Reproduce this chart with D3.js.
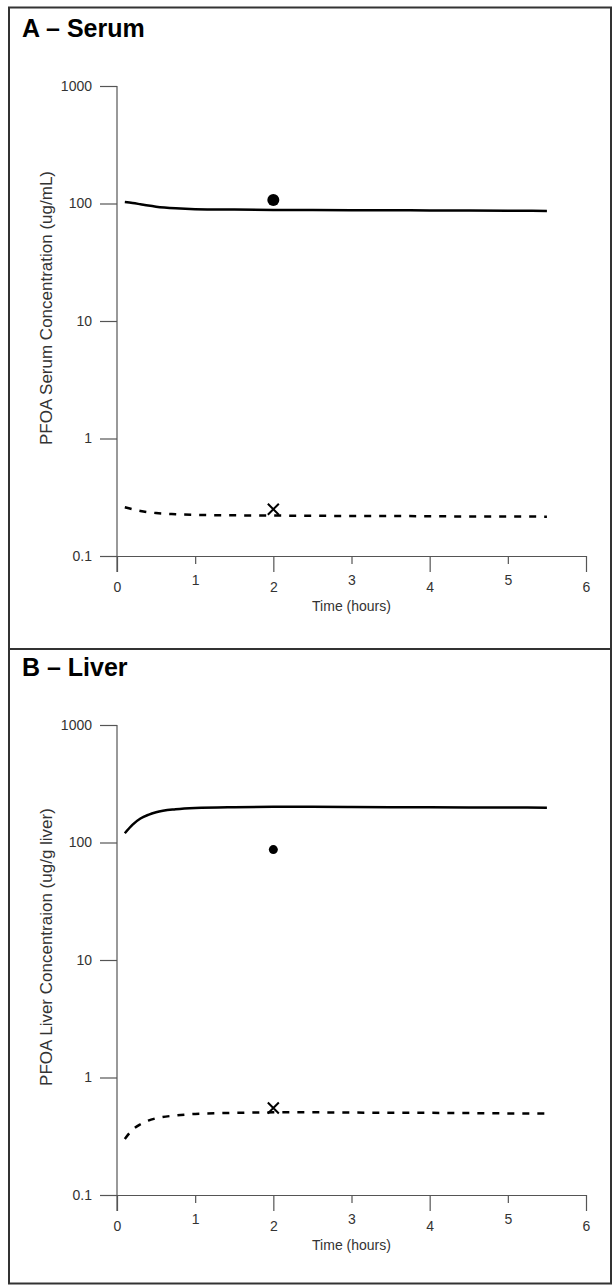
<!DOCTYPE html>
<html lang="en">
<head>
    <meta charset="utf-8">
    <title>PFOA serum and liver</title>
    <script src="https://cdn.jsdelivr.net/npm/d3@7"></script>
    <style>
        body { margin: 0; background: #fff; }
        svg { display: block; }
        text { font-family: "Liberation Sans", Arial, sans-serif; }
    </style>
</head>
<body>
<script>
// model time points (hours)
var times = [0.1, 0.2, 0.3, 0.4, 0.5, 0.75, 1, 1.5, 2, 2.5, 3, 3.5, 4, 4.5, 5, 5.5];

// panel A - serum (ug/mL)
var serumSolid  = [103, 101, 98.5, 96, 94, 91, 89.5, 88.7, 88.2, 88, 87.8, 87.5, 87.3, 87, 86.7, 86.5];
var serumDashed = [0.26, 0.25, 0.242, 0.236, 0.232, 0.227, 0.224, 0.222, 0.221, 0.22, 0.219, 0.219, 0.218, 0.217, 0.217, 0.216];
var serumDot = [2, 107];
var serumCross = [2, 0.25];

// panel B - liver (ug/g liver)
var liverSolid  = [120, 142, 160, 172, 181, 192, 197, 200, 201, 201, 200.5, 200, 199.5, 199, 198.5, 198];
var liverDashed = [0.30, 0.36, 0.40, 0.43, 0.45, 0.475, 0.49, 0.50, 0.505, 0.505, 0.503, 0.50, 0.50, 0.498, 0.495, 0.493];
var liverDot = [2, 87];
var liverCross = [2, 0.55];

var xTicks = [0, 1, 2, 3, 4, 5, 6];
var yTicks = [0.1, 1, 10, 100, 1000];

var W = 613, H = 1286;
var svg = d3.select("body").append("svg").attr("width", W).attr("height", H);

// frame and divider
svg.append("rect").attr("x", 9).attr("y", 7.5).attr("width", 602).attr("height", 1276)
    .attr("fill", "none").attr("stroke", "#333").attr("stroke-width", 2);
svg.append("line").attr("x1", 9).attr("x2", 611).attr("y1", 649).attr("y2", 649)
    .attr("stroke", "#333").attr("stroke-width", 2);

function panel(top, title, ylab, solid, dashed, dot, cross, dotR) {
    var g = svg.append("g").attr("transform", "translate(0," + top + ")");

    g.append("text").attr("x", 22).attr("y", 37).text(title)
        .attr("font-size", 25).attr("font-weight", "bold").attr("fill", "#000");

    var x = d3.scaleLinear().domain([0, 6]).range([117, 586]);
    var y = d3.scaleLog().domain([0.1, 1000]).range([556, 86]);

    var yAxis = g.append("g").attr("transform", "translate(117,0)")
        .call(d3.axisLeft(y).tickValues(yTicks).tickSize(17).tickSizeOuter(0).tickPadding(8)
            .tickFormat(function(d) { return d < 1 ? "0.1" : d3.format("d")(d); }));
    var xAxis = g.append("g").attr("transform", "translate(0,556)")
        .call(d3.axisBottom(x).tickValues(xTicks).tickFormat(d3.format("d"))
            .tickSize(16).tickSizeOuter(0).tickPadding(10));

    [yAxis, xAxis].forEach(function(a) {
        a.select(".domain").attr("stroke", "#555").attr("stroke-width", 1.2);
        a.selectAll(".tick line").attr("stroke", "#555").attr("stroke-width", 1.2);
        a.selectAll(".tick text").attr("font-size", 14).attr("fill", "#333").attr("font-family", null);
    });
    // y axis runs down past the x axis
    yAxis.select(".domain").attr("d", "M0,86V572");
    // odd hours get short ticks and raised labels
    xAxis.selectAll(".tick").filter(function(d) { return d % 2 === 1; })
        .each(function() {
            d3.select(this).select("line").attr("y2", 8);
            d3.select(this).select("text").attr("y", 19);
        });

    g.append("text").attr("x", x(3)).attr("y", 611).attr("text-anchor", "middle")
        .attr("font-size", 14).attr("fill", "#333").text("Time (hours)");
    g.append("text").attr("transform", "translate(52,308) rotate(-90)").attr("text-anchor", "middle")
        .attr("font-size", 17).attr("fill", "#333").text(ylab);

    var line = d3.line().x(function(d) { return x(d[0]); }).y(function(d) { return y(d[1]); })
        .curve(d3.curveMonotoneX);

    g.append("path").datum(d3.zip(times, solid)).attr("d", line)
        .attr("fill", "none").attr("stroke", "#000").attr("stroke-width", 2.5);
    g.append("path").datum(d3.zip(times, dashed)).attr("d", line)
        .attr("fill", "none").attr("stroke", "#000").attr("stroke-width", 2.5)
        .attr("stroke-dasharray", "7,8");

    g.append("circle").attr("cx", x(dot[0])).attr("cy", y(dot[1])).attr("r", dotR).attr("fill", "#000");

    var cx = x(cross[0]), cy = y(cross[1]), s = 5.5;
    g.append("path")
        .attr("d", "M" + (cx - s) + "," + (cy - s) + "L" + (cx + s) + "," + (cy + s) +
                   "M" + (cx - s) + "," + (cy + s) + "L" + (cx + s) + "," + (cy - s))
        .attr("stroke", "#000").attr("stroke-width", 2).attr("fill", "none");
}

panel(0, "A \u2013 Serum", "PFOA Serum Concentration (ug/mL)", serumSolid, serumDashed, serumDot, serumCross, 6);
panel(639, "B \u2013 Liver", "PFOA Liver Concentraion (ug/g liver)", liverSolid, liverDashed, liverDot, liverCross, 4.5);
</script>
</body>
</html>
